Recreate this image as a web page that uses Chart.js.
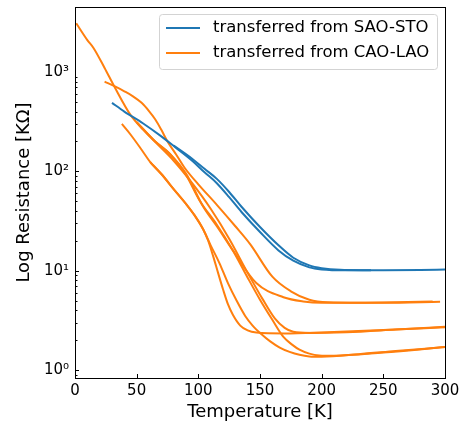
<!DOCTYPE html>
<html lang="en">
<head>
    <meta charset="UTF-8">
    <title>Resistance vs Temperature</title>
    <script src="https://cdn.jsdelivr.net/npm/chart.js"></script>
    <style>
        body { margin: 0; background: #ffffff; }
        #wrap { width: 464px; height: 425px; }
    </style>
</head>
<body>
<div id="wrap"><canvas id="rtChart"></canvas></div>
<script>
    // SAO-STO sample: cool-down and warm-up
    const saoTempA = [30, 40, 55, 70, 81, 95, 105, 115, 125, 135, 150, 165, 177, 190, 200, 220, 250, 280, 300];
    const saoResA  = [490, 400, 305, 225, 176, 128, 98, 76, 55, 39, 24.5, 16, 12.6, 10.8, 10.3, 10.1, 10.1, 10.15, 10.25];
    const saoTempB = [80, 95, 105, 115, 125, 135, 150, 165, 177, 190, 200, 215, 240];
    const saoResB  = [182, 134, 106, 84, 62, 44, 27.5, 18, 13.5, 11.3, 10.6, 10.2, 10.1];

    // CAO-LAO samples
    const caoTemp1 = [1, 10, 15, 24, 32, 45, 55, 65, 77, 90, 104, 115, 128, 147, 169, 185, 200, 250, 296];
    const caoRes1  = [3100, 2100, 1750, 1100, 710, 370, 265, 200, 150, 95, 44, 28, 16, 7.5, 5.4, 4.9, 4.75, 4.75, 4.85];
    const caoTemp2 = [24, 32, 40, 47, 54, 60, 65, 70, 75, 82, 89, 100, 115, 130, 142, 160, 175, 190, 205, 230, 260, 290];
    const caoRes2  = [800, 720, 640, 570, 490, 405, 335, 262, 200, 148, 108, 74, 46, 28, 18.5, 8.7, 6.2, 5.1, 4.8, 4.75, 4.8, 4.9];
    const caoTemp3 = [38, 45, 54, 61, 70, 81, 90, 97, 104, 108, 112, 116, 120, 124, 128, 134, 140, 147, 170, 200, 250, 300];
    const caoRes3  = [300, 235, 165, 124, 94, 64, 47, 36, 26, 20, 14, 9.5, 6.5, 4.6, 3.6, 2.8, 2.5, 2.38, 2.33, 2.38, 2.52, 2.7];
    const caoTemp4 = [61, 70, 81, 90, 97, 104, 110, 117, 124, 131, 138, 144, 151, 158, 166, 174, 182, 190, 200, 230, 260, 300];
    const caoRes4  = [124, 94, 64, 47, 36, 26, 18, 12, 7.5, 5.0, 3.5, 2.8, 2.3, 1.95, 1.68, 1.52, 1.42, 1.37, 1.36, 1.44, 1.55, 1.7];
    const caoTemp5 = [50, 65, 77, 90, 101, 115, 128, 140, 150, 160, 169, 176, 182, 190, 198, 210, 250, 300];
    const caoRes5  = [313, 200, 150, 92, 51, 29, 16, 8.5, 5.1, 3.2, 2.15, 1.8, 1.6, 1.46, 1.4, 1.39, 1.5, 1.7];
    const caoTemp6 = [50, 65, 80, 95, 110, 125, 140, 152, 162, 170, 177, 190, 220, 260, 300];
    const caoRes6  = [313, 198, 128, 76, 42, 21, 9.5, 5.2, 3.3, 2.65, 2.42, 2.36, 2.4, 2.55, 2.72];

    const xTicks = [0, 50, 100, 150, 200, 250, 300];
    const yTicks = [1, 10, 100, 1000];
    const legendLabels = ['transferred from SAO-STO', 'transferred from CAO-LAO'];

    const BLUE = '#1f77b4';
    const ORANGE = '#ff7f0e';
    const SUP = { '0': '\u2070', '1': '\u00b9', '2': '\u00b2', '3': '\u00b3' };

    function toPoints(ts, rs) {
        return ts.map((t, i) => ({ x: t, y: rs[i] }));
    }

    function curve(ts, rs, color) {
        return {
            data: toPoints(ts, rs),
            borderColor: color,
            borderWidth: 2,
            showLine: true,
            pointRadius: 0,
            cubicInterpolationMode: 'monotone',
            fill: false
        };
    }

    const datasets = [
        curve(saoTempA, saoResA, BLUE),
        curve(saoTempB, saoResB, BLUE),
        curve(caoTemp1, caoRes1, ORANGE),
        curve(caoTemp2, caoRes2, ORANGE),
        curve(caoTemp3, caoRes3, ORANGE),
        curve(caoTemp4, caoRes4, ORANGE),
        curve(caoTemp5, caoRes5, ORANGE),
        curve(caoTemp6, caoRes6, ORANGE)
    ];

    // frame, inward ticks and the legend box, matplotlib style
    const mplDecor = {
        id: 'mplDecor',
        afterDraw(chart) {
            const ctx = chart.ctx;
            const a = chart.chartArea;
            const xs = chart.scales.x, ys = chart.scales.y;
            ctx.save();
            ctx.strokeStyle = '#000';
            ctx.lineWidth = 1;

            ctx.beginPath();
            xTicks.forEach(v => {
                const px = Math.round(xs.getPixelForValue(v)) + 0.5;
                ctx.moveTo(px, a.bottom);
                ctx.lineTo(px, a.bottom - 4);
            });
            for (let d = 0; d < 4; d++) {
                for (let m = 1; m < 10; m++) {
                    const v = m * Math.pow(10, d - 1);
                    if (v < ys.min || v > ys.max) continue;
                    const py = Math.round(ys.getPixelForValue(v)) + 0.5;
                    const len = (m === 1) ? 4 : 2.5;
                    ctx.moveTo(a.left, py);
                    ctx.lineTo(a.left + len, py);
                }
            }
            ctx.stroke();

            ctx.strokeRect(Math.round(a.left) + 0.5, Math.round(a.top) + 0.5,
                Math.round(a.right - a.left), Math.round(a.bottom - a.top));

            // legend
            const bx = 159.5, by = 14.5, bw = 278, bh = 55;
            ctx.beginPath();
            ctx.roundRect(bx, by, bw, bh, 3);
            ctx.fillStyle = 'rgba(255,255,255,0.8)';
            ctx.fill();
            ctx.strokeStyle = '#d3d3d3';
            ctx.stroke();
            ctx.font = '16.5px "DejaVu Sans"';
            ctx.textBaseline = 'middle';
            ctx.fillStyle = '#000';
            [BLUE, ORANGE].forEach((c, i) => {
                const ly = 28 + i * 25;
                ctx.beginPath();
                ctx.strokeStyle = c;
                ctx.lineWidth = 2;
                ctx.moveTo(166, ly);
                ctx.lineTo(200, ly);
                ctx.stroke();
                ctx.fillText(legendLabels[i], 213, ly);
            });
            ctx.restore();
        }
    };

    const ctx = document.getElementById('rtChart').getContext('2d');
    new Chart(ctx, {
        type: 'scatter',
        data: { datasets: datasets },
        options: {
            responsive: true,
            maintainAspectRatio: false,
            animation: false,
            layout: { padding: { top: 7, right: 19, left: 0, bottom: 0 } },
            plugins: {
                legend: { display: false },
                tooltip: { enabled: false }
            },
            scales: {
                x: {
                    type: 'linear',
                    min: 0,
                    max: 300,
                    afterBuildTicks: scale => { scale.ticks = xTicks.map(v => ({ value: v })); },
                    grid: { display: false, drawTicks: false },
                    border: { display: false },
                    ticks: {
                        font: { family: 'DejaVu Sans', size: 15 },
                        color: '#000',
                        padding: 4,
                        maxRotation: 0
                    },
                    title: {
                        display: true,
                        text: 'Temperature [K]',
                        font: { family: 'DejaVu Sans', size: 18 },
                        color: '#000',
                        padding: { top: 0, bottom: 2 }
                    },
                    afterFit: scale => {
                        scale.height = 47;
                        scale.paddingLeft = 0;
                        scale.paddingRight = 0;
                    }
                },
                y: {
                    type: 'logarithmic',
                    min: 0.83,
                    max: 4520,
                    afterBuildTicks: scale => { scale.ticks = yTicks.map(v => ({ value: v })); },
                    grid: { display: false, drawTicks: false },
                    border: { display: false },
                    ticks: {
                        font: { family: 'DejaVu Sans', size: 15 },
                        color: '#000',
                        padding: 6,
                        autoSkip: false,
                        callback: v => '10' + SUP[String(Math.round(Math.log10(v)))]
                    },
                    title: {
                        display: true,
                        text: 'Log Resistance [K\u03a9]',
                        font: { family: 'DejaVu Sans', size: 18 },
                        color: '#000',
                        padding: { top: 14, bottom: 0 }
                    },
                    afterFit: scale => {
                        scale.width = 75;
                        scale.paddingTop = 0;
                        scale.paddingBottom = 0;
                    }
                }
            }
        },
        plugins: [mplDecor]
    });
</script>
</body>
</html>
